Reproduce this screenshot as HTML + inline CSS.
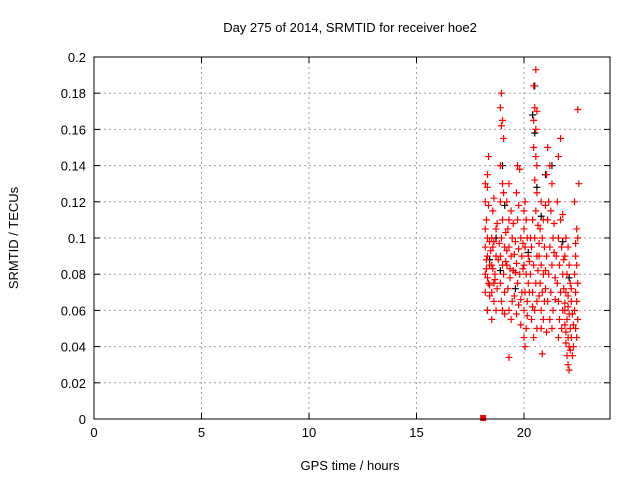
<!DOCTYPE html>
<html><head><meta charset="utf-8"><style>
body{margin:0;background:#fff}
svg{display:block;font-family:"Liberation Sans",sans-serif}
</style></head><body>
<svg id="chart" width="640" height="480" viewBox="0 0 640 480" xmlns="http://www.w3.org/2000/svg">
<rect width="640" height="480" fill="#fff"/>
<text x="350" y="32" font-size="13" text-anchor="middle">Day 275 of 2014, SRMTID for receiver hoe2</text>
<text transform="translate(18,238) rotate(-90)" font-size="13" text-anchor="middle">SRMTID / TECUs</text>
<text x="350" y="470" font-size="13" text-anchor="middle">GPS time / hours</text>
<g id="grid"></g><g id="ticks"></g><g id="marks"></g>
<rect x="94" y="57" width="516" height="362" fill="none" stroke="#000" stroke-width="1"/>
</svg>
<script>
const xTicks=[0,5,10,15,20];
const yTicks=[0,0.02,0.04,0.06,0.08,0.1,0.12,0.14,0.16,0.18,0.2];
const yTickLabels=["0","0.02","0.04","0.06","0.08","0.1","0.12","0.14","0.16","0.18","0.2"];
const blackPoints=[[18.3,0.06],[18.7,0.1],[19.0,0.14],[19.1,0.118],[20.5,0.184],[20.4,0.168],[20.5,0.158],[20.6,0.128],[21.3,0.14],[21.0,0.135],[18.4,0.088],[19.6,0.072],[20.2,0.092],[21.8,0.098],[22.1,0.078],[18.9,0.082],[20.8,0.112]];
const redPoints=[
[18.2,0.13],[18.3,0.128],[18.2,0.12],[18.35,0.118],[18.25,0.11],[18.2,0.105],[18.3,0.1],[18.4,0.098],[18.2,0.095],[18.3,0.09],[18.25,0.088],[18.4,0.085],[18.2,0.08],[18.3,0.078],[18.35,0.075],[18.2,0.07],[18.4,0.068],[18.3,0.06],[18.35,0.145],[18.3,0.135],
[18.5,0.1],[18.6,0.098],[18.55,0.095],[18.7,0.09],[18.5,0.085],[18.65,0.08],[18.6,0.075],[18.75,0.072],[18.5,0.07],[18.6,0.065],[18.7,0.06],[18.5,0.055],[18.55,0.115],[18.6,0.122],[18.7,0.105],
[18.95,0.18],[18.9,0.172],[19.0,0.165],[18.95,0.162],[19.05,0.155],[18.9,0.14],[19.0,0.13],[19.05,0.125],[18.9,0.12],[19.0,0.11],[18.95,0.1],[19.1,0.095],[18.9,0.09],[19.0,0.085],[19.05,0.08],[18.9,0.075],[19.1,0.07],[18.95,0.065],[19.0,0.06],[19.1,0.058],
[19.3,0.13],[19.2,0.12],[19.4,0.115],[19.3,0.11],[19.25,0.105],[19.45,0.1],[19.3,0.095],[19.4,0.09],[19.2,0.085],[19.5,0.082],[19.35,0.078],[19.25,0.072],[19.45,0.065],[19.3,0.06],[19.4,0.055],[19.3,0.034],
[19.7,0.14],[19.8,0.138],[19.65,0.125],[19.75,0.118],[19.7,0.11],[19.85,0.1],[19.6,0.098],[19.75,0.094],[19.9,0.09],[19.65,0.086],[19.8,0.08],[19.7,0.075],[19.9,0.07],[19.75,0.063],[19.65,0.058],[19.85,0.052],
[20.05,0.12],[20.1,0.11],[20.0,0.105],[20.15,0.1],[20.05,0.095],[20.2,0.09],[20.0,0.085],[20.1,0.08],[20.2,0.075],[20.05,0.07],[20.15,0.065],[20.0,0.06],[20.1,0.05],[20.0,0.045],[20.05,0.04],
[20.55,0.193],[20.45,0.184],[20.5,0.172],[20.6,0.17],[20.45,0.165],[20.55,0.16],[20.45,0.15],[20.55,0.145],[20.6,0.14],[20.5,0.132],[20.6,0.125],[20.55,0.115],[20.4,0.11],[20.5,0.1],[20.35,0.095],[20.6,0.09],[20.45,0.085],[20.3,0.08],[20.55,0.075],[20.4,0.07],[20.6,0.065],[20.5,0.06],[20.35,0.055],[20.6,0.05],[20.45,0.045],
[20.8,0.12],[20.9,0.11],[20.75,0.105],[20.85,0.1],[20.95,0.095],[20.7,0.09],[20.8,0.085],[20.9,0.08],[20.75,0.075],[20.85,0.07],[20.95,0.065],[20.8,0.06],[20.9,0.055],[20.8,0.05],[20.85,0.036],
[21.1,0.15],[21.2,0.14],[21.05,0.135],[21.3,0.13],[21.15,0.12],[21.25,0.115],[21.1,0.11],[21.35,0.1],[21.2,0.095],[21.05,0.09],[21.3,0.085],[21.15,0.08],[21.25,0.07],[21.1,0.065],[21.35,0.06],[21.2,0.055],[21.3,0.05],[21.05,0.048],
[21.7,0.155],[21.6,0.145],[21.55,0.12],[21.7,0.11],[21.6,0.1],[21.75,0.095],[21.5,0.09],[21.65,0.085],[21.8,0.08],[21.55,0.075],[21.7,0.07],[21.6,0.065],[21.8,0.06],[21.65,0.055],[21.75,0.05],[21.6,0.045],
[21.95,0.1],[22.05,0.095],[21.9,0.09],[22.1,0.085],[22.0,0.08],[22.15,0.075],[21.95,0.07],[22.05,0.068],[22.2,0.065],[21.9,0.06],[22.1,0.058],[22.0,0.055],[22.15,0.05],[21.95,0.048],[22.05,0.045],[22.1,0.04],[22.0,0.035],[22.05,0.03],[22.1,0.027],[22.15,0.038],
[22.5,0.171],[22.55,0.13],[22.35,0.12],[22.45,0.105],[22.5,0.1],[22.4,0.09],[22.45,0.085],[22.35,0.08],[22.5,0.075],[22.4,0.07],[22.45,0.065],[22.35,0.06],[22.5,0.055],[22.4,0.05],[22.45,0.045],[22.3,0.04],
[18.45,0.093],[18.55,0.083],[18.65,0.077],[18.8,0.088],[18.85,0.097],[19.15,0.087],[19.2,0.093],[19.35,0.083],[19.55,0.091],[19.6,0.081],[19.55,0.068],[19.95,0.083],[19.95,0.097],[20.25,0.087],[20.25,0.07],[20.3,0.1],[20.65,0.082],[20.7,0.068],[20.7,0.097],[21.0,0.082],[21.0,0.072],[21.4,0.092],[21.45,0.078],[21.45,0.066],[21.85,0.088],[21.85,0.072],[21.9,0.064],[22.2,0.072],[22.25,0.058],[22.3,0.052],[22.2,0.045],[22.25,0.035],[18.75,0.108],[19.15,0.103],[19.5,0.108],[20.0,0.115],[20.65,0.107],[21.0,0.118],[21.4,0.108],[21.8,0.113],[22.4,0.097],[21.9,0.052],[21.95,0.042],[22.05,0.062],[20.4,0.062],[19.85,0.066],[20.15,0.057],[18.4,0.074],[18.25,0.083]
];
const squarePoints=[[18.1,0]];
const NS="http://www.w3.org/2000/svg";
const L=94,R=610,T=57,B=419,XMAX=24,YMAX=0.2;
function sx(v){return L+(R-L)*v/XMAX;}
function sy(v){return B-(B-T)*v/YMAX;}
function mk(tag,attrs,parent){const e=document.createElementNS(NS,tag);for(const k in attrs)e.setAttribute(k,attrs[k]);parent.appendChild(e);return e;}
const grid=document.getElementById('grid'),ticks=document.getElementById('ticks'),marks=document.getElementById('marks');
xTicks.forEach(v=>{const x=sx(v);
 if(v>0){const g=mk('line',{x1:x,x2:x,y1:T,y2:B,stroke:'#a0a0a0','stroke-dasharray':'2,3'},grid);
 
 }
 mk('line',{x1:x,x2:x,y1:B,y2:B-6,stroke:'#000'},ticks);
 mk('line',{x1:x,x2:x,y1:T,y2:T+6,stroke:'#000'},ticks);
 const t=mk('text',{x:x,y:B+18,'font-size':13,'text-anchor':'middle'},ticks);t.textContent=v;
 
 });
yTicks.forEach((v,i)=>{const y=sy(v);
 if(v>0&&v<YMAX){const g=mk('line',{x1:L,x2:R,y1:y,y2:y,stroke:'#a0a0a0','stroke-dasharray':'2,3'},grid);
 
 }
 mk('line',{x1:L,x2:L+6,y1:y,y2:y,stroke:'#000'},ticks);
 mk('line',{x1:R,x2:R-6,y1:y,y2:y,stroke:'#000'},ticks);
 const t=mk('text',{x:L-8,y:y+5,'font-size':13,'text-anchor':'end'},ticks);t.textContent=yTickLabels[i];
 
 });
function plus(p,col,name){const x=sx(p[0]),y=sy(p[1]);
 const g=mk('path',{d:`M${x-3.5},${y}H${x+3.5}M${x},${y-3.5}V${y+3.5}`,stroke:col,'stroke-width':1.2,fill:'none'},marks);
 
 }
blackPoints.forEach(p=>plus(p,'#000','black-point'));
redPoints.forEach(p=>plus(p,'#ff0000','red-point'));
squarePoints.forEach(p=>{const r=mk('rect',{x:sx(p[0])-3,y:sy(p[1])-4,width:6,height:6,fill:'#ff0000'},marks);
 
 });
</script>
</body></html>
